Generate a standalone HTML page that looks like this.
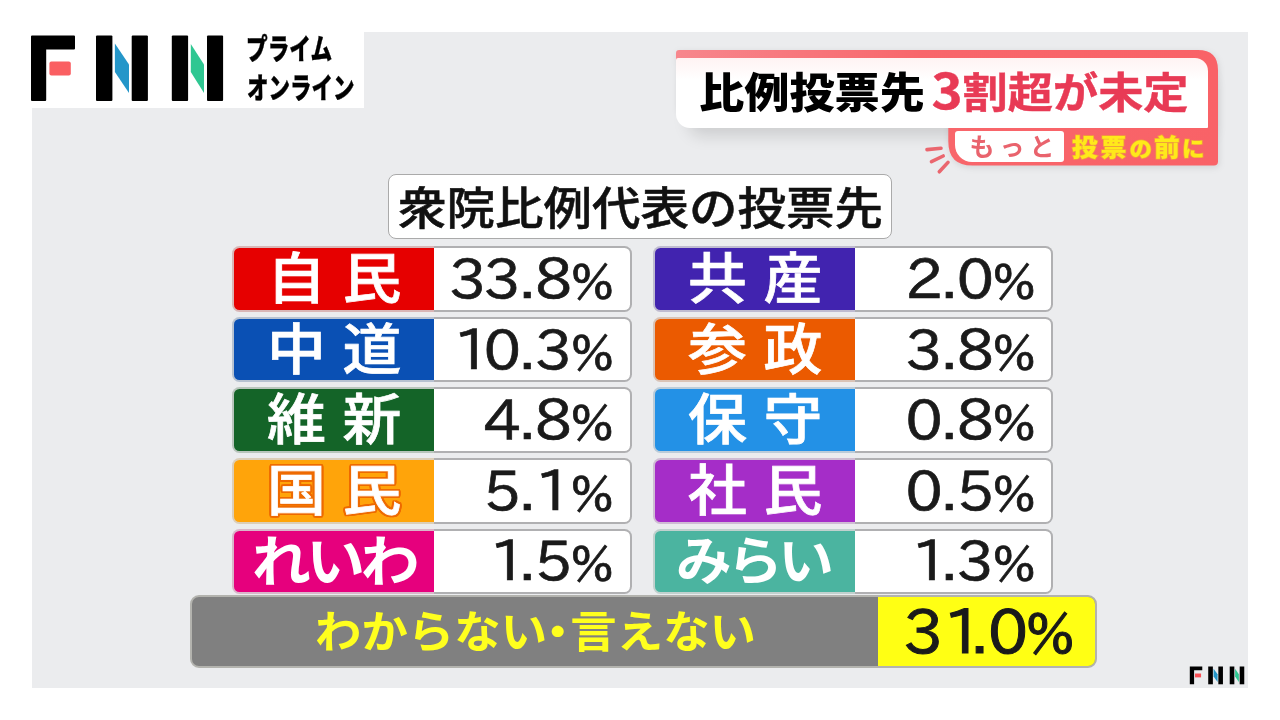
<!DOCTYPE html>
<html lang="ja">
<head>
<meta charset="utf-8">
<title>比例投票先 3割超が未定</title>
<style>
html,body{margin:0;padding:0;}
body{width:1280px;height:720px;background:#fff;position:relative;overflow:hidden;
  font-family:"Liberation Sans","Noto Sans CJK JP",sans-serif;}
.abs{position:absolute;}
#panel{left:32px;top:32px;width:1216px;height:656px;background:#ebecee;}
#logobg{left:0;top:0;width:364px;height:108px;background:#fff;}
.jp{font-family:"Noto Sans CJK JP","Liberation Sans",sans-serif;}
.t{position:absolute;white-space:nowrap;line-height:1;transform-origin:0 0;}

/* logo text */
.logot{font-family:"Noto Sans CJK JP",sans-serif;font-weight:900;color:#000;font-size:29px;-webkit-text-stroke:.35px #000;}

/* title */
#frame{left:676px;top:50px;width:560px;height:130px;filter:drop-shadow(1px 2px 3px rgba(0,0,0,.10));}
#tshadow{left:680px;top:70px;width:524px;height:57px;border-radius:0 0 0 14px;box-shadow:8px 9px 16px rgba(0,0,0,.13);}
#titlebox{left:676px;top:57.5px;width:532px;height:70px;background:linear-gradient(#fff3f3 0,#fff 22px);
  border-radius:2px 13px 1px 14px;}
.ttl{font-family:"Noto Sans CJK JP",sans-serif;font-weight:900;font-size:42px;transform:scaleX(1.076);}
#pill{left:954.7px;top:131px;width:109px;height:30.5px;background:#fff;border-radius:3px 3px 3px 17px;}

/* header */
#hdr{left:387.5px;top:173.5px;width:504.5px;height:65px;box-sizing:border-box;background:#fff;border:1.8px solid #aaa;border-radius:8px;}
.hdrt{font-family:"Noto Sans CJK JP",sans-serif;font-weight:500;font-size:45px;color:#111;-webkit-text-stroke:.5px #111;transform:scaleX(1.078);}

/* rows */
.row{position:absolute;height:65.5px;width:400px;}
.row .c,.row .w{position:absolute;top:0;bottom:0;box-sizing:border-box;}
.row .c{left:0;width:202px;border:2px solid rgba(214,214,214,.85);border-right:0;border-radius:7.5px 0 0 7.5px;}
.row .w{left:202px;right:0;background:#fff;border:2px solid #b0b0b2;border-left:0;border-radius:0 7.5px 7.5px 0;}
.L{left:232.3px;}
.R{left:653.3px;}
.nm{font-family:"Noto Sans CJK JP",sans-serif;font-weight:500;font-size:55px;color:#fff;-webkit-text-stroke:.7px #fff;}
.pc{font-family:"IPAPGothic","Liberation Sans",sans-serif;font-weight:400;font-size:55.2px;color:#1a1a1a;letter-spacing:-2.58px;-webkit-text-stroke:.7px #1a1a1a;transform-origin:100% 0;transform:scaleX(1.07);}
.pc i{font-style:normal;font-size:47.3px;letter-spacing:0;margin-left:1.6px;}
.pc u{text-decoration:none;letter-spacing:0;margin-left:1.4px;margin-right:-.3px;}
.pc b{font-weight:400;position:relative;left:5.9px;}
.pc s{text-decoration:none;position:relative;left:.5px;}
.k2{letter-spacing:15.5px;transform:scaleX(1.07);}
.k3{font-weight:700;-webkit-text-stroke:0;letter-spacing:-4.2px;transform:scaleX(1.07);}
.ol{text-shadow:2.30px 0.00px 0 #ee6a00,2.12px 0.88px 0 #ee6a00,1.63px 1.63px 0 #ee6a00,0.88px 2.12px 0 #ee6a00,0.00px 2.30px 0 #ee6a00,-0.88px 2.12px 0 #ee6a00,-1.63px 1.63px 0 #ee6a00,-2.12px 0.88px 0 #ee6a00,-2.30px 0.00px 0 #ee6a00,-2.12px -0.88px 0 #ee6a00,-1.63px -1.63px 0 #ee6a00,-0.88px -2.12px 0 #ee6a00,-0.00px -2.30px 0 #ee6a00,0.88px -2.12px 0 #ee6a00,1.63px -1.63px 0 #ee6a00,2.12px -0.88px 0 #ee6a00;}

#bar{left:190px;top:594.5px;width:906.5px;height:73px;box-sizing:border-box;background:#808080;border:2px solid #b3b3ae;border-radius:9px;overflow:hidden;}
#bar .y{position:absolute;left:686px;top:0;bottom:0;right:0;background:#ffff14;}
.bt{font-family:"Noto Sans CJK JP",sans-serif;font-weight:700;font-size:44px;color:#ffff1e;transform:scaleX(1.055);}
.bp{font-family:"IPAPGothic","Liberation Sans",sans-serif;font-weight:400;font-size:61.2px;color:#1a1a1a;letter-spacing:0;-webkit-text-stroke:1px #1a1a1a;transform-origin:100% 0;transform:scaleX(1.04);}
.bp i{font-style:normal;font-size:55px;margin-left:-2px;}
.bp b{font-weight:400;letter-spacing:-11.9px;}
.bt b{font-weight:700;display:inline-block;width:22px;text-align:center;text-indent:-12px;}
</style>
</head>
<body>
<div id="panel" class="abs"></div>
<div id="logobg" class="abs"></div>

<!-- FNN logo -->
<svg class="abs" style="left:0;top:0" width="364" height="108" viewBox="0 0 364 108">
  <g id="fnn">
  <path d="M31 36.6q0-1 1-1h42q1 0 1 1v12q0 1-1 1H46.2v50.4q0 1-1 1H32q-1 0-1-1z" fill="#000"/>
  <rect x="49.4" y="61.4" width="21.4" height="14.2" rx="2" fill="#fa5f62"/>
  <rect x="96" y="35.6" width="16.4" height="65.4" rx="1" fill="#000"/>
  <rect x="131.7" y="35.6" width="16.2" height="65.4" rx="1" fill="#000"/>
  <path d="M114.9 43.6L129 64.4V92.9L114.9 72z" fill="#2496c9"/>
  <rect x="171.8" y="35.6" width="16.3" height="65.4" rx="1" fill="#000"/>
  <rect x="207" y="35.6" width="16.1" height="65.4" rx="1" fill="#000"/>
  <path d="M190.8 43.9L204 64.4V92.9L190.8 72z" fill="#2fc792"/>
  </g>
</svg>
<div class="t logot" id="lg1" style="left:246px;top:32.8px;transform:scaleX(.746)">プライム</div>
<div class="t logot" id="lg2" style="left:247px;top:71.6px;transform:scaleX(.741)">オンライン</div>

<!-- title frame -->
<div id="tshadow" class="abs"></div>
<svg id="frame" class="abs" width="560" height="130" viewBox="0 0 560 130">
  <defs><linearGradient id="pg" x1="0" y1="0" x2="1" y2="0"><stop offset="0" stop-color="#f7878d"/><stop offset=".45" stop-color="#f8666b"/><stop offset="1" stop-color="#f96267"/></linearGradient></defs>
  <path d="M0 3q0-3 3-3H522q20 0 20 20V111.5q0 4-4 4H296.3q-24 0-24-24V60H1V12H0z" fill="url(#pg)"/>
</svg>
<div id="titlebox" class="abs"></div>
<div class="t ttl" id="tt1" style="left:698.5px;top:68.7px;color:#000">比例投票先</div>
<div class="t ttl" id="tt2" style="left:932px;top:68.7px;color:#e83a55;font-weight:700;-webkit-text-stroke:.45px #e83a55"><span style="font-size:49px;line-height:0;position:relative;top:1.5px;margin-left:-.5px;margin-right:0">3</span>割超が未定</div>
<div id="pill" class="abs"></div>
<div class="t jp" id="motto" style="left:969.6px;top:133px;font-size:25px;font-weight:700;color:#e9636d;letter-spacing:5px">もっと</div>
<div class="t jp" id="mae" style="left:1072px;top:134.3px;font-size:24px;font-weight:900;color:#ffe91a;letter-spacing:2.87px;transform:scaleX(1.07);-webkit-text-stroke:1.5px #f0a03c;paint-order:stroke fill">投票<span style="font-size:21px;letter-spacing:2px">の</span><span style="letter-spacing:2.1px">前</span><span style="font-size:21px;letter-spacing:0">に</span></div>
<svg class="abs" style="left:920px;top:140px" width="40" height="40" viewBox="920 140 40 40">
  <g stroke="#ea666e" stroke-width="3.6" stroke-linecap="round">
    <line x1="927" y1="149.6" x2="941" y2="148.2"/>
    <line x1="931.5" y1="161.6" x2="943.2" y2="156"/>
    <line x1="939.3" y1="171.8" x2="948" y2="162.4"/>
  </g>
</svg>

<!-- header -->
<div id="hdr" class="abs"></div>
<div class="t hdrt" id="hd" style="left:397.5px;top:183px;">衆院比例代表の投票先</div>

<!-- rows left -->
<div class="row L" style="top:246px"><div class="c" style="background:#e60000"></div><div class="w"></div></div>
<div class="row L" style="top:316.7px"><div class="c" style="background:#0a50b4"></div><div class="w"></div></div>
<div class="row L" style="top:387.2px"><div class="c" style="background:#146428"></div><div class="w"></div></div>
<div class="row L" style="top:458px"><div class="c" style="background:#ffa40a"></div><div class="w"></div></div>
<div class="row L" style="top:528.8px"><div class="c" style="background:#e6007d"></div><div class="w"></div></div>
<!-- rows right -->
<div class="row R" style="top:246px"><div class="c" style="background:#4123af"></div><div class="w"></div></div>
<div class="row R" style="top:316.7px"><div class="c" style="background:#eb5a00"></div><div class="w"></div></div>
<div class="row R" style="top:387.2px"><div class="c" style="background:#2391e6"></div><div class="w"></div></div>
<div class="row R" style="top:458px"><div class="c" style="background:#a52dc8"></div><div class="w"></div></div>
<div class="row R" style="top:528.8px"><div class="c" style="background:#4bb4a0"></div><div class="w"></div></div>

<!-- row texts -->
<div class="t nm k2" id="n00" style="left:267.1px;top:247.0px">自民</div>
<div class="t pc" id="p00" style="right:665.7px;top:250.9px">33<u>.</u>8<i>%</i></div>
<div class="t nm k2" id="n01" style="left:267.1px;top:317.7px">中道</div>
<div class="t pc" id="p01" style="right:665.7px;top:321.6px"><b style="left:4.3px">1</b>0<u>.</u>3<i>%</i></div>
<div class="t nm k2" id="n02" style="left:267.1px;top:388.2px">維新</div>
<div class="t pc" id="p02" style="right:665.7px;top:392.1px">4<u>.</u>8<i>%</i></div>
<div class="t nm k2 ol" id="n03" style="left:267.1px;top:459.0px">国民</div>
<div class="t pc" id="p03" style="right:665.7px;top:462.9px">5<u>.</u><s>1</s><i>%</i></div>
<div class="t nm k3" id="n04" style="left:251.5px;top:529.5px">れいわ</div>
<div class="t pc" id="p04" style="right:665.7px;top:533.4px"><b>1</b><u>.</u>5<i>%</i></div>
<div class="t nm k2" id="n10" style="left:688.1px;top:247.0px">共産</div>
<div class="t pc" id="p10" style="right:244.6px;top:250.9px">2<u>.</u>0<i>%</i></div>
<div class="t nm k2" id="n11" style="left:688.1px;top:317.7px">参政</div>
<div class="t pc" id="p11" style="right:244.6px;top:321.6px">3<u>.</u>8<i>%</i></div>
<div class="t nm k2" id="n12" style="left:688.1px;top:388.2px">保守</div>
<div class="t pc" id="p12" style="right:244.6px;top:392.1px">0<u>.</u>8<i>%</i></div>
<div class="t nm k2" id="n13" style="left:688.1px;top:459.0px">社民</div>
<div class="t pc" id="p13" style="right:244.6px;top:462.9px">0<u>.</u>5<i>%</i></div>
<div class="t nm k3" id="n14" style="left:676.3px;top:531.5px;font-size:52px">みらい</div>
<div class="t pc" id="p14" style="right:244.6px;top:533.4px"><b>1</b><u>.</u>3<i>%</i></div>

<!-- bottom bar -->
<div id="bar" class="abs"><div class="y"></div></div>
<div class="t bt" id="bt" style="left:315px;top:607px">わからない<b>・</b>言えない</div>
<div class="t bp" id="bp" style="right:204.9px;top:600px">3<b>1</b>.0<i>%</i></div>

<!-- small FNN logo -->
<svg class="abs" style="left:1186px;top:662px" width="62" height="26" viewBox="0 0 62 26">
  <g transform="translate(3.8 4.5) scale(.2835 .272) translate(-31 -35.6)">
  <path d="M31 35.6h44v14H46.2v51.4H31z" fill="#000"/>
  <rect x="49.4" y="61.4" width="21.4" height="14.2" fill="#fa5055"/>
  <rect x="96" y="35.6" width="16.4" height="65.4" fill="#000"/>
  <rect x="131.7" y="35.6" width="16.2" height="65.4" fill="#000"/>
  <path d="M114.9 43.6L129 64.4V92.9L114.9 72z" fill="#2496c9"/>
  <rect x="171.8" y="35.6" width="16.3" height="65.4" fill="#000"/>
  <rect x="207" y="35.6" width="16.1" height="65.4" fill="#000"/>
  <path d="M190.8 43.9L204 64.4V92.9L190.8 72z" fill="#2fc792"/>
  </g>
</svg>
</body>
</html>
